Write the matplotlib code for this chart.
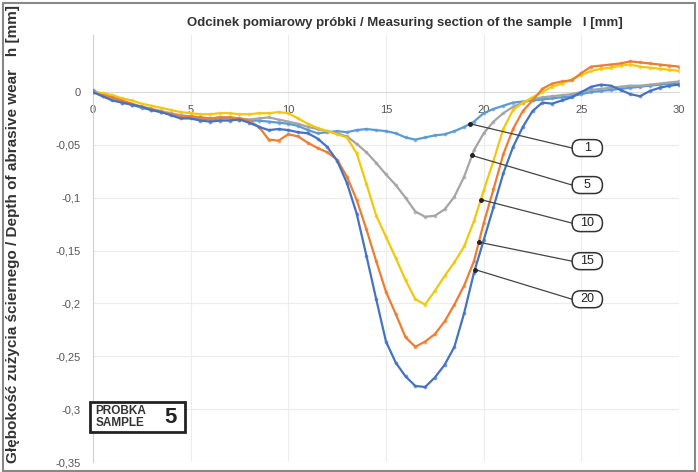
import matplotlib
matplotlib.use("Agg")
import matplotlib.pyplot as plt
from matplotlib.patches import Rectangle, FancyBboxPatch
import numpy as np

plt.rcParams["font.family"] = ["Liberation Sans", "DejaVu Sans"]

# sampling positions along the measuring section [mm]
x = np.arange(0, 30.5, 0.5)

# depth of wear h [mm] per series
h1 = [0.002, -0.003, -0.006, -0.009, -0.012, -0.015, -0.017, -0.019, -0.021, -0.023,
      -0.024, -0.025, -0.026, -0.025, -0.025, -0.026, -0.027, -0.027, -0.028, -0.029,
      -0.030, -0.032, -0.036, -0.039, -0.038, -0.037, -0.038, -0.036, -0.035, -0.036,
      -0.037, -0.039, -0.043, -0.045, -0.043, -0.041, -0.040, -0.037, -0.033, -0.028,
      -0.020, -0.016, -0.013, -0.010, -0.009, -0.008, -0.007, -0.006, -0.005, -0.004,
      -0.002, 0.000, 0.001, 0.002, 0.003, 0.004, 0.005, 0.006, 0.007, 0.008, 0.008]
h5 = [0.000, -0.004, -0.007, -0.010, -0.012, -0.014, -0.016, -0.018, -0.020, -0.022,
      -0.023, -0.024, -0.025, -0.024, -0.024, -0.025, -0.026, -0.025, -0.024, -0.026,
      -0.028, -0.030, -0.033, -0.035, -0.037, -0.039, -0.042, -0.049, -0.057, -0.067,
      -0.078, -0.088, -0.100, -0.113, -0.118, -0.117, -0.111, -0.099, -0.080, -0.055,
      -0.039, -0.028, -0.020, -0.014, -0.010, -0.007, -0.005, -0.004, -0.003, -0.002,
      0.000, 0.002, 0.003, 0.004, 0.005, 0.006, 0.006, 0.007, 0.008, 0.009, 0.010]
h10 = [0.000, -0.001, -0.003, -0.006, -0.008, -0.011, -0.013, -0.015, -0.017, -0.019,
       -0.020, -0.021, -0.021, -0.020, -0.020, -0.021, -0.021, -0.020, -0.020, -0.019,
       -0.020, -0.025, -0.030, -0.034, -0.037, -0.040, -0.043, -0.058, -0.087, -0.117,
       -0.137, -0.157, -0.178, -0.196, -0.201, -0.188, -0.174, -0.161, -0.146, -0.122,
       -0.093, -0.065, -0.035, -0.017, -0.010, -0.005, 0.000, 0.005, 0.008, 0.012,
       0.016, 0.020, 0.022, 0.023, 0.025, 0.026, 0.024, 0.023, 0.022, 0.021, 0.020]
h15 = [0.000, -0.003, -0.005, -0.008, -0.011, -0.014, -0.016, -0.019, -0.021, -0.023,
       -0.023, -0.024, -0.025, -0.024, -0.024, -0.025, -0.027, -0.033, -0.045, -0.046,
       -0.040, -0.042, -0.048, -0.053, -0.057, -0.064, -0.080, -0.102, -0.130, -0.160,
       -0.189, -0.210, -0.232, -0.241, -0.236, -0.229, -0.217, -0.201, -0.183, -0.160,
       -0.124, -0.092, -0.059, -0.035, -0.018, -0.008, 0.003, 0.008, 0.010, 0.011,
       0.018, 0.024, 0.025, 0.026, 0.027, 0.029, 0.028, 0.027, 0.026, 0.025, 0.024]
h20 = [0.000, -0.004, -0.008, -0.010, -0.012, -0.014, -0.017, -0.019, -0.022, -0.025,
       -0.025, -0.027, -0.028, -0.027, -0.027, -0.026, -0.029, -0.033, -0.036, -0.035,
       -0.036, -0.038, -0.039, -0.044, -0.052, -0.065, -0.086, -0.115, -0.155, -0.196,
       -0.236, -0.256, -0.269, -0.278, -0.279, -0.270, -0.258, -0.241, -0.209, -0.171,
       -0.140, -0.109, -0.077, -0.052, -0.033, -0.018, -0.010, -0.011, -0.008, -0.005,
       0.000, 0.005, 0.007, 0.006, 0.002, -0.002, -0.004, 0.001, 0.004, 0.006, 0.007]

series_names = ["1", "5", "10", "15", "20"]
series_vals = [h1, h5, h10, h15, h20]
colors = ["#5B9BD5", "#A5A5A5", "#F2C80F", "#ED7D31", "#4472C4"]
# leader-line anchors on each curve and label positions
anchor_x = [19.3, 19.4, 19.85, 19.75, 19.55]
label_y = [-0.053, -0.088, -0.124, -0.160, -0.196]
label_x = 25.3

fig = plt.figure(figsize=(6.98, 4.72), dpi=100)
ax = fig.add_axes([0.133, 0.021, 0.840, 0.905])

for name, vals, c in zip(series_names, series_vals, colors):
    vals = np.array(vals)
    ax.plot(x, vals, "o", ms=1.8, color=c, alpha=0.55, zorder=3)
    ax.plot(x, vals, "-", lw=1.6, color=c, zorder=4)

# label boxes with leader lines
box_w, box_h = 1.55, 0.016
for name, vals, a_x, ly in zip(series_names, series_vals, anchor_x, label_y):
    ay = np.interp(a_x, x, vals)
    ax.plot([a_x, label_x - box_w / 2], [ay, ly], "-", color="#444444", lw=0.9, zorder=6)
    ax.plot([a_x], [ay], "o", ms=2.5, color="#222222", zorder=6)
    ax.add_patch(FancyBboxPatch((label_x - box_w / 2, ly - box_h / 2), box_w, box_h,
                                boxstyle="round,pad=0,rounding_size=0.42",
                                mutation_aspect=0.0185, fc="white", ec="#333333",
                                lw=1.1, zorder=7))
    ax.text(label_x, ly, name, ha="center", va="center", fontsize=9,
            color="#222222", zorder=8)

ax.set_xlim(0, 30)
ax.set_ylim(-0.35, 0.054)
ax.set_xticks([0, 5, 10, 15, 20, 25, 30])
ax.set_yticks([0, -0.05, -0.1, -0.15, -0.2, -0.25, -0.3, -0.35])
ax.set_yticklabels(["0", "-0,05", "-0,1", "-0,15", "-0,2", "-0,25", "-0,3", "-0,35"])
ax.tick_params(axis="y", length=0, pad=9, labelsize=8, labelcolor="#555555")
ax.tick_params(axis="x", length=0, pad=9, labelsize=8, labelcolor="#555555")
ax.grid(True, color="#ececec", lw=0.8)
ax.set_axisbelow(True)
for s in ["top", "right"]:
    ax.spines[s].set_visible(False)
ax.spines["bottom"].set_position(("data", 0))
ax.spines["bottom"].set_color("#d9d9d9")
ax.spines["left"].set_color("#d0d0d0")

fig.text(0.58, 0.952, "Odcinek pomiarowy próbki / Measuring section of the sample   l [mm]",
         ha="center", va="center", fontsize=9.5, fontweight="bold", color="#333333")
fig.text(0.019, 0.505, "Głębokość zużycia ściernego / Depth of abrasive wear   h [mm]",
         ha="center", va="center", rotation=90, fontsize=11, fontweight="bold",
         color="#333333")

# sample tag
fig.patches.append(Rectangle((0.129, 0.085), 0.136, 0.063, transform=fig.transFigure,
                             fill=True, fc="white", ec="#222222", lw=2.0))
fig.text(0.137, 0.1165, "PRÓBKA\nSAMPLE", ha="left", va="center", fontsize=8.5,
         fontweight="bold", color="#333333", linespacing=0.95)
fig.text(0.244, 0.1165, "5", ha="center", va="center", fontsize=16,
         fontweight="bold", color="#222222")

# outer frame
fig.patches.append(Rectangle((0.004, 0.003), 0.992, 0.99, transform=fig.transFigure,
                             fill=False, ec="#888888", lw=1.5))

fig.savefig("out.png", dpi=100)
